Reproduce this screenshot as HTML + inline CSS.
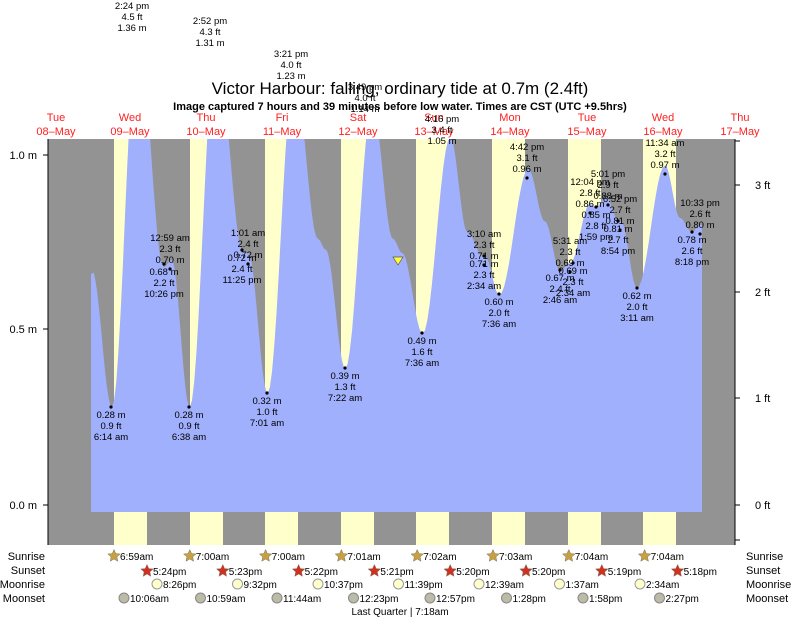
<!DOCTYPE html><html><head><style>body{margin:0;background:#fff;width:793px;height:619px;overflow:hidden;font-family:"Liberation Sans",sans-serif}</style></head><body>
<svg id="s" width="793" height="619" xmlns="http://www.w3.org/2000/svg" font-family="Liberation Sans, sans-serif">
<rect x="48" y="139" width="687" height="406" fill="#939393"/>
<g fill="#ffffcc">
<rect x="114" y="139" width="33" height="406"/><rect x="190" y="139" width="33" height="406"/><rect x="265" y="139" width="33" height="406"/><rect x="341" y="139" width="33" height="406"/><rect x="416" y="139" width="33" height="406"/><rect x="492" y="139" width="33" height="406"/><rect x="568" y="139" width="33" height="406"/><rect x="643" y="139" width="33" height="406"/>
</g>
<clipPath id="c"><rect x="48" y="139" width="687" height="406"/></clipPath>
<path id="tide" fill="#a0b0fc" clip-path="url(#c)"/>
<g stroke="#000" fill="none"><path d="M48 139V545M735 139V545"/>
<path d="M43 155h5M43 329h5M43 505h5M735 185h5M735 292h5M735 398h5M735 505h5M735 141h5M735 540h5"/></g>
<g font-size="11" text-anchor="end"><text x="37" y="159">1.0 m</text><text x="37" y="333">0.5 m</text><text x="37" y="509">0.0 m</text></g>
<g font-size="11"><text x="755" y="189">3 ft</text><text x="755" y="296">2 ft</text><text x="755" y="402">1 ft</text><text x="755" y="509">0 ft</text></g>
<text x="400" y="94" font-size="17" text-anchor="middle">Victor Harbour: falling, ordinary tide at 0.7m (2.4ft)</text>
<text x="400" y="110" font-size="11" font-weight="bold" text-anchor="middle">Image captured 7 hours and 39 minutes before low water. Times are CST (UTC +9.5hrs)</text>
<g font-size="11" fill="#ff2020" text-anchor="middle">
<text x="56" y="121">Tue</text><text x="56" y="135">08–May</text>
<text x="130" y="121">Wed</text><text x="130" y="135">09–May</text>
<text x="206" y="121">Thu</text><text x="206" y="135">10–May</text>
<text x="282" y="121">Fri</text><text x="282" y="135">11–May</text>
<text x="358" y="121">Sat</text><text x="358" y="135">12–May</text>
<text x="434" y="121">Sun</text><text x="434" y="135">13–May</text>
<text x="510" y="121">Mon</text><text x="510" y="135">14–May</text>
<text x="587" y="121">Tue</text><text x="587" y="135">15–May</text>
<text x="663" y="121">Wed</text><text x="663" y="135">16–May</text>
<text x="740" y="121">Thu</text><text x="740" y="135">17–May</text>
</g>
<g id="lbl" font-size="9.5" text-anchor="middle"></g>
<polygon points="393,257 403,257 398,265" fill="#ffff33" stroke="#555" stroke-width="0.7"/>
<g font-size="11">
<text x="45" y="560" text-anchor="end">Sunrise</text><text x="45" y="574" text-anchor="end">Sunset</text><text x="45" y="588" text-anchor="end">Moonrise</text><text x="45" y="602" text-anchor="end">Moonset</text>
<text x="746" y="560">Sunrise</text><text x="746" y="574">Sunset</text><text x="746" y="588">Moonrise</text><text x="746" y="602">Moonset</text>
<text x="400" y="615" font-size="10" text-anchor="middle">Last Quarter | 7:18am</text>
</g>
<g id="bot" font-size="10"></g>
</svg>
<script>
function X(d){return 92+d*76.6}function Y(m){return 505-350*m}
var ev=[[0,0.67],[0.26,0.28],[0.6,1.36],[0.935,0.68],[1.041,0.70],[1.276,0.28],[1.62,1.31],[1.976,0.72],[2.042,0.72],[2.292,0.32],[2.64,1.23],[2.95,0.76],[3.05,0.73],[3.307,0.39],[3.66,1.14],[3.93,0.76],[4.05,0.72],[4.317,0.49],[4.678,1.05],[4.9,0.78],[5.106,0.71],[5.132,0.71],[5.317,0.60],[5.696,0.96]].map(function(e){return [X(e[0]),e[1]]});
ev=ev.concat([[545,0.81],[560,0.67],[570,0.69],[590,0.86],[596,0.85],[606,0.88],[619,0.81],[621,0.81],[637,0.62],[665,0.97],[680,0.82],[692,0.78],[700,0.80],[702,0.80]]);
var p="M91 512L91 "+Y(0.66);
for(var i=0;i<ev.length-1;i++){var a=ev[i],b=ev[i+1];for(var k=1;k<=12;k++){var t=k/12,m=a[1]+(b[1]-a[1])*(1-Math.cos(Math.PI*t))/2;p+="L"+(a[0]+(b[0]-a[0])*t).toFixed(1)+" "+Y(m).toFixed(1);}}
p+="L702 512Z";document.getElementById("tide").setAttribute("d",p);
var L=[[111,407,1,["0.28 m","0.9 ft","6:14 am"]],[189,407,1,["0.28 m","0.9 ft","6:38 am"]],[267,393,1,["0.32 m","1.0 ft","7:01 am"]],[345,368,1,["0.39 m","1.3 ft","7:22 am"]],[422,333,1,["0.49 m","1.6 ft","7:36 am"]],[499,294,1,["0.60 m","2.0 ft","7:36 am"]],[637,288,1,["0.62 m","2.0 ft","3:11 am"]],[164,264,1,["0.68 m","2.2 ft","10:26 pm"]],[242,250,1,["0.72 m","2.4 ft","11:25 pm"]],[484,256,1,["0.71 m","2.3 ft","2:34 am"]],[692,232,1,["0.78 m","2.6 ft","8:18 pm"]],[560,270,1,["0.67 m","2.4 ft","2:46 am"]],
[132,0,0,["2:24 pm","4.5 ft","1.36 m"]],[210,15,0,["2:52 pm","4.3 ft","1.31 m"]],[291,48,0,["3:21 pm","4.0 ft","1.23 m"]],[365,81,0,["3:49 pm","4.0 ft","1.14 m"]],[442,113,0,["4:16 pm","3.4 ft","1.05 m"]],[527,141,0,["4:42 pm","3.1 ft","0.96 m"]],[665,137,0,["11:34 am","3.2 ft","0.97 m"]],[170,232,0,["12:59 am","2.3 ft","0.70 m"]],[248,227,0,["1:01 am","2.4 ft","0.72 m"]],[484,228,0,["3:10 am","2.3 ft","0.71 m"]],[700,197,0,["10:33 pm","2.6 ft","0.80 m"]],[590,176,0,["12:04 pm","2.8 ft","0.86 m"]],[608,168,0,["5:01 pm","2.9 ft","0.88 m"]],[570,235,0,["5:31 am","2.3 ft","0.69 m"]],[596,207,1,["0.85 m","2.8 ft","1:59 pm"]],[620,193,0,["6:52 pm","2.7 ft","0.81 m"]],[618,221,1,["0.81 m","2.7 ft","8:54 pm"]],[573,263,1,["0.69 m","2.3 ft","2:34 am"]]];
var g=document.getElementById("lbl"),h="";
L.forEach(function(l){var x=l[0],y=l[1];if(l[2]){h+='<circle cx="'+x+'" cy="'+y+'" r="1.6"/>';for(var j=0;j<3;j++)h+='<text x="'+x+'" y="'+(y+11+j*11)+'">'+l[3][j]+'</text>';}else{var y0=y+9;for(var j=0;j<3;j++)h+='<text x="'+x+'" y="'+(y0+j*11)+'">'+l[3][j]+'</text>';if(y>130)h+='<circle cx="'+x+'" cy="'+(y0+28)+'" r="1.6"/>';}});
g.innerHTML=h;
var b="",sr=["6:59am","7:00am","7:00am","7:01am","7:02am","7:03am","7:04am","7:04am"],ss=["5:24pm","5:23pm","5:22pm","5:21pm","5:20pm","5:20pm","5:19pm","5:18pm"],mr=["8:26pm","9:32pm","10:37pm","11:39pm","12:39am","1:37am","2:34am"],ms=["10:06am","10:59am","11:44am","12:23pm","12:57pm","1:28pm","1:58pm","2:27pm"];
function star(cx,cy,f){var s="";for(var i=0;i<10;i++){var r=i%2?3:6.5,a=Math.PI*i/5-Math.PI/2;s+=(cx+r*Math.cos(a)).toFixed(1)+","+(cy+r*Math.sin(a)).toFixed(1)+" ";}return '<polygon points="'+s+'" fill="'+f+'" stroke="#776" stroke-width="0.5"/>';}
for(var i=0;i<8;i++){var x=114+i*75.8;b+=star(x,556,"#c8a040")+'<text x="'+(x+6)+'" y="560">'+sr[i]+'</text>';
var x2=147+i*75.8;b+=star(x2,571,"#d03020")+'<text x="'+(x2+6)+'" y="575">'+ss[i]+'</text>';
if(i<7){var x3=157+i*80.5;b+='<circle cx="'+x3+'" cy="584" r="5" fill="#ffffcc" stroke="#999"/><text x="'+(x3+6)+'" y="588">'+mr[i]+'</text>';}
var x4=124+i*76.5;b+='<circle cx="'+x4+'" cy="598" r="5" fill="#bbbba8" stroke="#888"/><text x="'+(x4+6)+'" y="602">'+ms[i]+'</text>';}
document.getElementById("bot").innerHTML=b;
</script>
</body></html>
